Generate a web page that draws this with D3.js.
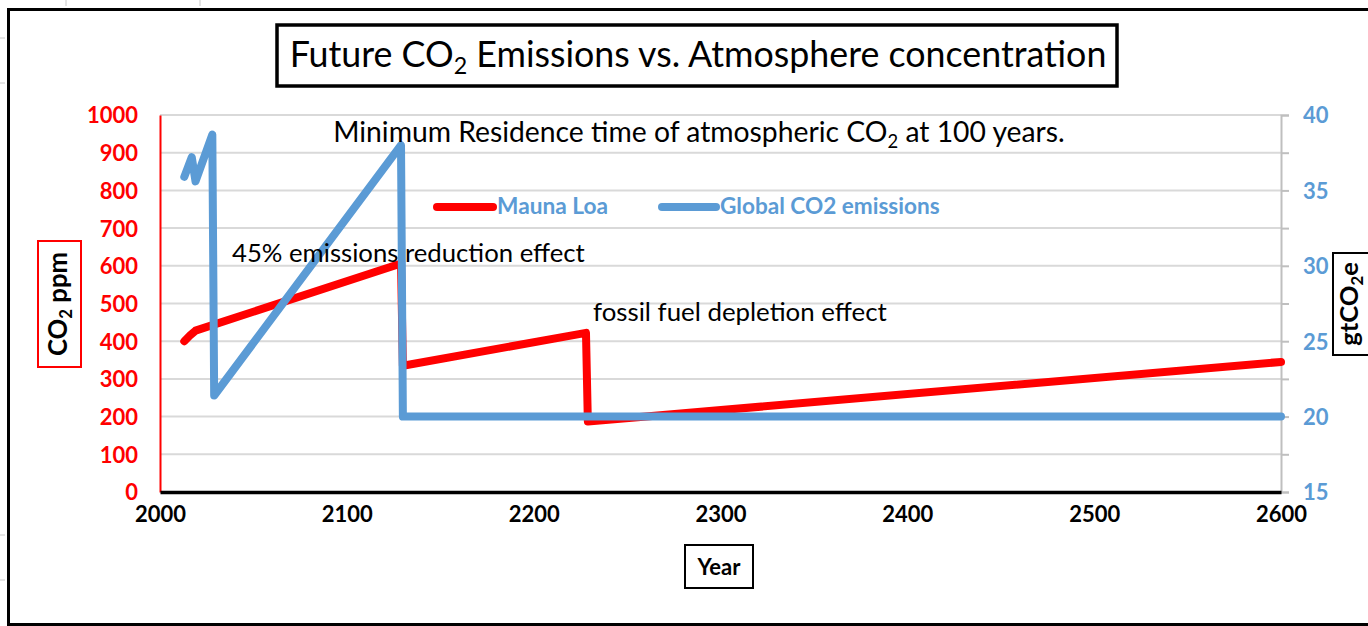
<!DOCTYPE html>
<html>
<head>
<meta charset="utf-8">
<script src="https://cdn.jsdelivr.net/npm/d3@7/dist/d3.min.js"></script>
<style>
	body{margin:0;background:#fff;}
	svg{display:block;font-family:Lato,"Open Sans",sans-serif;}
</style>
</head>
<body>
<svg id="chart" width="1368" height="626"></svg>
<script>
// Mauna Loa CO2 ppm (left axis)
var maunaYears = [2013, 2016, 2019, 2129, 2130, 2228, 2229, 2600];
var maunaPpm = [400, 415, 428, 606, 335, 422, 187, 345];
// Global CO2 emissions gtCO2e (right axis)
var emisYears = [2013, 2017, 2019, 2028, 2029, 2129, 2130, 2600];
var emisGt = [35.9, 37.2, 35.6, 38.7, 21.4, 38.0, 20, 20];

var yearTicks = [2000, 2100, 2200, 2300, 2400, 2500, 2600];
var ppmTicks = [0, 100, 200, 300, 400, 500, 600, 700, 800, 900, 1000];
var gtTicks = [15, 20, 25, 30, 35, 40];
var gtMinorTicks = [15, 17.5, 20, 22.5, 25, 27.5, 30, 32.5, 35, 37.5, 40];

var RED = "#ff0000", BLUE = "#5b9bd5";

var svg = d3.select("#chart");

var x = d3.scaleLinear().domain([2000, 2600]).range([160, 1281]);
var yL = d3.scaleLinear().domain([0, 1000]).range([492, 115]);
var yR = d3.scaleLinear().domain([15, 40]).range([492, 115]);

// squeeze a text to a measured width
function fitWidth(t, w){
	var fs = parseFloat(t.attr("font-size"));
	var cur = t.node().getBBox().width;
	t.attr("font-size", (fs * w / cur).toFixed(2));
}

/******** sheet marks + outer frame ********/
[66, 200].forEach(function(px){
	svg.append("line").attr("x1", px).attr("x2", px).attr("y1", 0).attr("y2", 6).attr("stroke", "#c8c8c8");
});
[38, 83, 535, 580].forEach(function(py){
	svg.append("line").attr("x1", 0).attr("x2", 5).attr("y1", py).attr("y2", py).attr("stroke", "#c8c8c8");
});
svg.append("rect")
	.attr("x", 8.5).attr("y", 9.5).attr("width", 1380).attr("height", 615)
	.attr("fill", "#fff").attr("stroke", "#000").attr("stroke-width", 3);

/******** grid ********/
svg.append("g").selectAll("line")
	.data(ppmTicks.slice(1))
	.enter().append("line")
	.attr("x1", x(2000)).attr("x2", x(2600))
	.attr("y1", function(d){ return yL(d); })
	.attr("y2", function(d){ return yL(d); })
	.attr("stroke", "#d9d9d9").attr("stroke-width", 2);

/******** axes ********/
var axL = svg.append("g").attr("transform", "translate(" + x(2000) + ",0)")
	.call(d3.axisLeft(yL).tickValues(ppmTicks).tickSize(0).tickPadding(22).tickFormat(d3.format("d")));
axL.select(".domain").attr("stroke", RED).attr("stroke-width", 2);
axL.selectAll("text").attr("fill", RED).attr("font-size", 22).attr("font-weight", "bold")
	.attr("font-family", "Lato, sans-serif").attr("dy", "0.36em");

var axR = svg.append("g").attr("transform", "translate(" + x(2600) + ",0)")
	.call(d3.axisRight(yR).tickValues(gtMinorTicks).tickSize(8).tickFormat(""));
axR.select(".domain").attr("stroke", "#bfbfbf").attr("stroke-width", 2);
axR.selectAll("line").attr("stroke", "#bfbfbf").attr("stroke-width", 2);

var axR2 = svg.append("g").attr("transform", "translate(" + x(2600) + ",0)")
	.call(d3.axisRight(yR).tickValues(gtTicks).tickSize(0).tickPadding(22));
axR2.select(".domain").remove();
axR2.selectAll("text").attr("fill", BLUE).attr("font-size", 22).attr("font-weight", "bold")
	.attr("font-family", "Lato, sans-serif").attr("dy", "0.36em");

var axB = svg.append("g").attr("transform", "translate(0," + yL(0) + ")")
	.call(d3.axisBottom(x).tickValues(yearTicks).tickSize(0).tickPadding(14).tickFormat(d3.format("d")));
axB.select(".domain").attr("stroke", "#000").attr("stroke-width", 3.5);
axB.selectAll("text").attr("fill", "#000").attr("font-size", 22).attr("font-weight", "bold")
	.attr("font-family", "Lato, sans-serif").attr("dy", "0.72em");

/******** series ********/
var maunaData = maunaYears.map(function(yr, i){ return [yr, maunaPpm[i]]; });
var emisData = emisYears.map(function(yr, i){ return [yr, emisGt[i]]; });

var lineL = d3.line().x(function(d){ return x(d[0]); }).y(function(d){ return yL(d[1]); });
var lineR = d3.line().x(function(d){ return x(d[0]); }).y(function(d){ return yR(d[1]); });

svg.append("path").datum(maunaData).attr("d", lineL)
	.attr("fill", "none").attr("stroke", RED).attr("stroke-width", 8)
	.attr("stroke-linejoin", "round").attr("stroke-linecap", "round");
svg.append("path").datum(emisData).attr("d", lineR)
	.attr("fill", "none").attr("stroke", BLUE).attr("stroke-width", 8)
	.attr("stroke-linejoin", "round").attr("stroke-linecap", "round");

/******** title ********/
svg.append("rect").attr("x", 277).attr("y", 25).attr("width", 840).attr("height", 61)
	.attr("fill", "#fff").attr("stroke", "#000").attr("stroke-width", 3.5);
var title = svg.append("text").attr("x", 698).attr("y", 67).attr("text-anchor", "middle")
	.attr("font-size", 30).attr("fill", "#000");
title.append("tspan").text("Future CO");
title.append("tspan").attr("font-size", "0.65em").attr("dy", "0.3em").text("2");
title.append("tspan").attr("dy", "-0.2em").text(" Emissions vs. Atmosphere concentration");
fitWidth(title, 817);

/******** annotations ********/
var note1 = svg.append("text").attr("x", 699).attr("y", 142).attr("text-anchor", "middle")
	.attr("font-size", 22).attr("fill", "#000");
note1.append("tspan").text("Minimum Residence time of atmospheric CO");
note1.append("tspan").attr("font-size", "0.65em").attr("dy", "0.3em").text("2");
note1.append("tspan").attr("dy", "-0.2em").text(" at 100 years.");
fitWidth(note1, 732);

var note2 = svg.append("text").attr("x", 232).attr("y", 262).attr("font-size", 22)
	.attr("fill", "#000").text("45% emissions reduction effect");
fitWidth(note2, 353);

var note3 = svg.append("text").attr("x", 593).attr("y", 321).attr("font-size", 22)
	.attr("fill", "#000").text("fossil fuel depletion effect");
fitWidth(note3, 294);

/******** legend ********/
var legendItems = [
	{name: "Mauna Loa", color: RED, x0: 437, tx: 497, tw: 111},
	{name: "Global CO2 emissions", color: BLUE, x0: 662, tx: 720, tw: 220}
];
legendItems.forEach(function(it){
	svg.append("line").attr("x1", it.x0).attr("x2", it.tx - 4).attr("y1", 207).attr("y2", 207)
		.attr("stroke", it.color).attr("stroke-width", 8).attr("stroke-linecap", "round");
	var t = svg.append("text").attr("x", it.tx).attr("y", 214).attr("font-size", 20)
		.attr("font-weight", "bold").attr("fill", BLUE).text(it.name);
	fitWidth(t, it.tw);
});

/******** axis titles ********/
svg.append("rect").attr("x", 38).attr("y", 241).attr("width", 43).attr("height", 126)
	.attr("fill", "#fff").attr("stroke", RED).attr("stroke-width", 2);
var yTitleL = svg.append("text").attr("transform", "translate(67,304) rotate(-90)")
	.attr("text-anchor", "middle").attr("font-size", 21).attr("font-weight", "bold").attr("fill", "#000");
yTitleL.append("tspan").text("CO");
yTitleL.append("tspan").attr("font-size", "0.65em").attr("dy", "0.3em").text("2");
yTitleL.append("tspan").attr("dy", "-0.2em").text(" ppm");
fitWidth(yTitleL, 104);

svg.append("rect").attr("x", 1333).attr("y", 253).attr("width", 60).attr("height", 102)
	.attr("fill", "#fff").attr("stroke", "#000").attr("stroke-width", 2);
var yTitleR = svg.append("text").attr("transform", "translate(1358,304) rotate(-90)")
	.attr("text-anchor", "middle").attr("font-size", 22).attr("font-weight", "bold").attr("fill", "#000");
yTitleR.append("tspan").text("gtCO");
yTitleR.append("tspan").attr("font-size", "0.65em").attr("dy", "0.3em").text("2");
yTitleR.append("tspan").attr("dy", "-0.2em").text("e");
fitWidth(yTitleR, 84);

svg.append("rect").attr("x", 685).attr("y", 545).attr("width", 68).attr("height", 43)
	.attr("fill", "#fff").attr("stroke", "#000").attr("stroke-width", 2);
svg.append("text").attr("x", 719).attr("y", 575).attr("text-anchor", "middle")
	.attr("font-size", 22).attr("font-weight", "bold").attr("fill", "#000").text("Year");
</script>
</body>
</html>
